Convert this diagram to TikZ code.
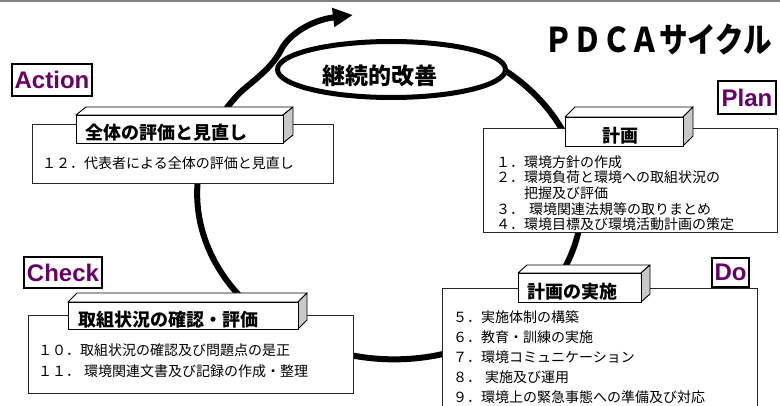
\documentclass[tikz,border=0pt]{standalone}
\usepackage{fontspec}
\setmainfont{Noto Sans CJK JP}
\newfontfamily\lsans{Liberation Sans}
\usetikzlibrary{arrows.meta,shapes.geometric}
\definecolor{pdcapurple}{RGB}{102,0,102}
\definecolor{sidegray}{RGB}{200,200,200}
\tikzset{
  cycleline/.style={line width=6pt, line cap=round, line join=round},
  cbox/.style={draw=black!85, line width=0.9pt, fill=white, inner sep=0pt, anchor=north west},
  hdrline/.style={draw=black, line width=0.9pt, line join=round},
  head/.style={font=\bfseries\fontsize{18}{18}\selectfont, inner sep=0pt},
  item/.style={anchor=west, font=\fontsize{14}{14}\selectfont, inner sep=0pt},
  lbl/.style={draw=black, line width=2pt, fill=white, inner sep=0pt, text=pdcapurple,
    font=\lsans\bfseries\fontsize{24}{24}\selectfont},
}
% #1 name, #2 x1, #3 y1, #4 x2, #5 y2, #6 depth x, #7 depth y, #8 text, #9 text centre x
\newcommand\hdrbox[9]{%
  \draw[hdrline, fill=white] (#2,#3) -- ({#2+#6},{#3-#7}) -- ({#4+#6},{#3-#7}) -- (#4,#3) -- cycle;
  \draw[hdrline, fill=sidegray] (#4,#3) -- ({#4+#6},{#3-#7}) -- ({#4+#6},{#5-#7}) -- (#4,#5) -- cycle;
  \node[hdrline, fill=white, inner sep=0pt, anchor=north west,
        minimum width={#4-#2}, minimum height={#5-#3}] (#1) at (#2,#3) {};
  \node[head] (#1-t) at ({#9},{(#3+#5)/2+4}) {#8};
}
\begin{document}
\begin{tikzpicture}[x=1pt,y=-1pt]
\useasboundingbox (0,0) rectangle (780,406);
\draw[gray, line width=1.5pt] (0,1) -- (780,1);

% big PDCA cycle with outward spiral and arrow
\draw[cycleline, -{Triangle[length=20pt,width=18pt]}]
  plot[domain=-65:215, samples=160, variable=\t]
    ({389.5+192.5*cos(\t)*0.99756-161.7*sin(\t)*0.069756},
     {197.5+192.5*cos(\t)*0.069756+161.7*sin(\t)*0.99756})
  .. controls (248.4,83.9) and (271,70) .. (281,50)
  .. controls (289,34) and (312,20) .. (353,15);

% continuous improvement ellipse
\node[ellipse, draw=black, line width=5pt, fill=white, inner sep=0pt,
      minimum width=228pt, minimum height=56pt] (kaizen) at (391.5,69.5) {};
\node[font=\bfseries\fontsize{23}{23}\selectfont, inner sep=0pt] (kaizen-t) at (380,76) {継続的改善};

% title
\node[font=\bfseries\fontsize{34}{34}\selectfont, inner sep=0pt] (title) at (658.5,40)
  {\scalebox{0.84}[1]{ＰＤＣＡサイクル}};

% content boxes
\node[cbox, minimum width=301pt, minimum height=59pt] (actbox) at (32,124) {};
\node[cbox, minimum width=294pt, minimum height=104pt] (planbox) at (483,128) {};
\node[cbox, minimum width=315pt, minimum height=132pt] (dobox) at (442,288) {};
\node[cbox, minimum width=325pt, minimum height=78pt] (chkbox) at (28,315) {};

% 3D headers
\hdrbox{acthd}{76}{115}{283}{143}{10}{8}{全体の評価と見直し}{166}
\hdrbox{planhd}{565}{117}{683}{146}{10}{10}{計画}{620.5}
\hdrbox{dohd}{518}{273}{641}{302}{9}{8}{計画の実施}{572.5}
\hdrbox{chkhd}{68}{302}{298}{329}{9}{9}{取組状況の確認・評価}{168.5}

% items
\node[item] (a12) at (42,163) {１２．代表者による全体の評価と見直し};

\node[item] (p1) at (496,162.5) {１．環境方針の作成};
\node[item] (p2) at (496,177.5) {２．環境負荷と環境への取組状況の};
\node[item] (p2b) at (496,193) {　　把握及び評価};
\node[item] (p3) at (496,209) {３．\hspace{5pt}環境関連法規等の取りまとめ};
\node[item] (p4) at (496,224) {４．環境目標及び環境活動計画の策定};

\node[item] (d5) at (453,317.5) {５．実施体制の構築};
\node[item] (d6) at (453,337.5) {６．教育・訓練の実施};
\node[item] (d7) at (453,357.5) {７．環境コミュニケーション};
\node[item] (d8) at (453,377.5) {８．\hspace{4pt}実施及び運用};
\node[item] (d9) at (453,397.5) {９．環境上の緊急事態への準備及び対応};

\node[item] (c10) at (38,350) {１０．取組状況の確認及び問題点の是正};
\node[item] (c11) at (38,371) {１１．\hspace{4pt}環境関連文書及び記録の作成・整理};

% PDCA labels
\node[lbl, minimum width=80pt, minimum height=32pt] (action) at (52,80) {Action};
\node[lbl, minimum width=58pt, minimum height=33pt] (plan) at (747,97.5) {Plan};
\node[lbl, minimum width=78pt, minimum height=31pt] (check) at (63,272.5) {Check};
\node[lbl, minimum width=37pt, minimum height=29pt] (do) at (730.5,272.5) {Do};
\end{tikzpicture}
\end{document}
